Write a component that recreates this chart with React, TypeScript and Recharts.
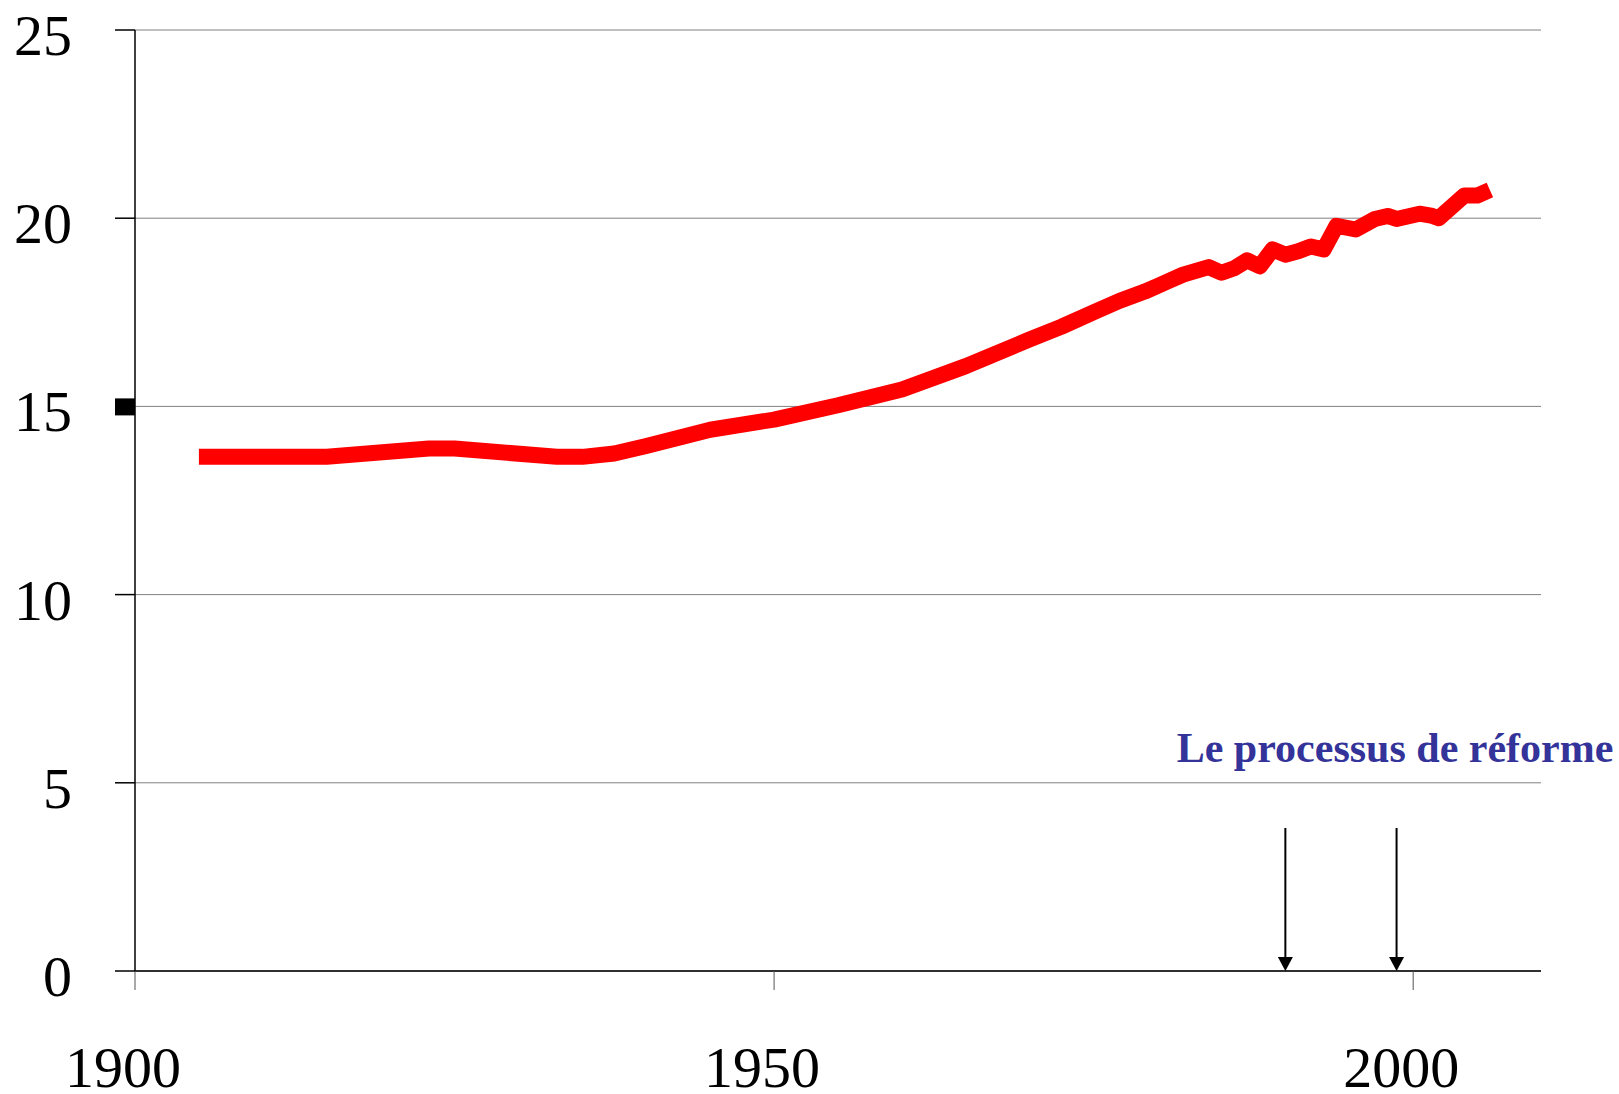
import React from 'react';
import {
  LineChart,
  Line,
  XAxis,
  YAxis,
  CartesianGrid,
  ReferenceLine,
  ReferenceDot,
} from 'recharts';

// Years (x) and values (y)
const years: number[] = [
  1905, 1915, 1923, 1925, 1933, 1935, 1937.5, 1940, 1945, 1950, 1955, 1960, 1965,
  1970, 1972.5, 1975, 1977, 1979, 1980, 1981, 1982, 1984, 1985, 1986, 1987, 1988,
  1989, 1990, 1991, 1992, 1993, 1994, 1995.5, 1997, 1998, 1998.7, 2000.5, 2001.5,
  2002, 2004, 2005, 2006,
];
const values: number[] = [
  13.66, 13.66, 13.88, 13.88, 13.66, 13.66, 13.75, 13.95, 14.38, 14.65, 15.03, 15.45,
  16.07, 16.78, 17.12, 17.5, 17.8, 18.05, 18.2, 18.35, 18.5, 18.7, 18.55, 18.67, 18.88,
  18.72, 19.17, 19.03, 19.12, 19.25, 19.17, 19.8, 19.7, 19.98, 20.06, 19.98, 20.12,
  20.06, 20.0, 20.6, 20.6, 20.75,
];

const xTicks: number[] = [1900, 1950, 2000];
const yTicks: number[] = [0, 5, 10, 15, 20, 25];
const markedYTick = 15;

const reformYears: number[] = [1990, 1998.7];
const arrowTop = 3.8;
const annotationText = 'Le processus de réforme';
const annotationPos = { x: 1981.5, y: 5.55 };

const data = years.map((year, i) => ({ year, v: values[i] }));

const FONT = '"Liberation Serif", "Times New Roman", serif';

const YTick = (props: any) => {
  const { x, y, payload } = props;
  return (
    <g>
      {payload.value === markedYTick && (
        <rect x={115} y={y - 8} width={20} height={17} fill="#000" />
      )}
      <text
        x={x}
        y={y + 25}
        textAnchor="end"
        fontFamily={FONT}
        fontSize={58}
        fill="#000"
      >
        {payload.value}
      </text>
    </g>
  );
};

const XTick = (props: any) => {
  const { x, y, payload } = props;
  return (
    <text
      x={x - 12}
      y={y + 97}
      textAnchor="middle"
      fontFamily={FONT}
      fontSize={58}
      fill="#000"
    >
      {payload.value}
    </text>
  );
};

const Arrow = (p: any) => {
  const { x1, y1, x2, y2 } = p;
  const top = Math.min(y1, y2);
  const bottom = Math.max(y1, y2);
  const x = x1;
  return (
    <g>
      <line x1={x} y1={top} x2={x} y2={bottom - 12} stroke="#000" strokeWidth={2} />
      <polygon
        points={`${x - 7.5},${bottom - 14} ${x + 7.5},${bottom - 14} ${x},${bottom}`}
        fill="#000"
      />
    </g>
  );
};

const Annotation = (p: any) => {
  const { cx, cy } = p;
  return (
    <text
      x={cx}
      y={cy}
      fontFamily={FONT}
      fontWeight="bold"
      fontSize={42}
      fill="#333399"
    >
      {annotationText}
    </text>
  );
};

export default function App() {
  return (
    <div style={{ position: 'absolute', left: 0, top: 0, background: '#fff' }}>
      <LineChart
        width={1619}
        height={1094}
        data={data}
        margin={{ top: 30, right: 78, bottom: 0, left: 0 }}
      >
        <CartesianGrid horizontal vertical={false} stroke="#808080" strokeWidth={1} />
        <XAxis
          type="number"
          dataKey="year"
          domain={[1900, 2010]}
          ticks={xTicks}
          allowDataOverflow
          height={123}
          axisLine={{ stroke: '#000', strokeWidth: 1.5 }}
          tickLine={{ stroke: '#555', strokeWidth: 1 }}
          tickSize={19}
          tickMargin={0}
          tick={<XTick />}
          interval={0}
        />
        <YAxis
          type="number"
          domain={[0, 25]}
          ticks={yTicks}
          width={135}
          axisLine={{ stroke: '#000', strokeWidth: 1.5 }}
          tickLine={{ stroke: '#000', strokeWidth: 1.5 }}
          tickSize={20}
          tickMargin={43}
          tick={<YTick />}
          interval={0}
        />
        {reformYears.map((yr) => (
          <ReferenceLine
            key={yr}
            segment={[
              { x: yr, y: arrowTop },
              { x: yr, y: 0 },
            ]}
            shape={Arrow}
          />
        ))}
        <ReferenceDot
          x={annotationPos.x}
          y={annotationPos.y}
          r={0}
          shape={Annotation}
        />
        <Line
          type="linear"
          dataKey="v"
          stroke="#ff0000"
          strokeWidth={16}
          strokeLinejoin="round"
          dot={false}
          activeDot={false}
          isAnimationActive={false}
        />
      </LineChart>
    </div>
  );
}
